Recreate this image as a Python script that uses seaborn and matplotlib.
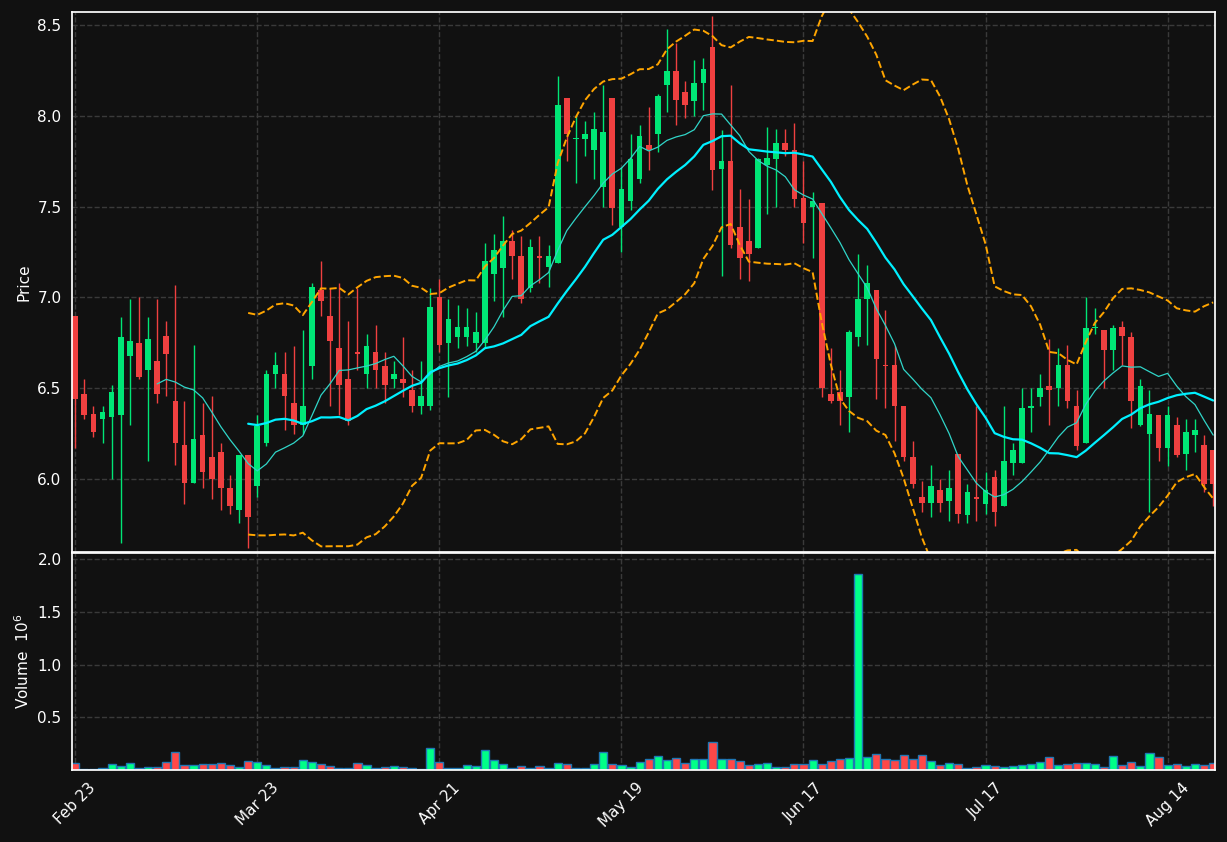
import numpy as np
import pandas as pd
import matplotlib
matplotlib.use("Agg")
import matplotlib.pyplot as plt
import seaborn as sns

# OHLC, one entry per trading day
opens = [6.90, 6.47, 6.36, 6.33, 6.34, 6.35, 6.68, 6.75, 6.60, 6.65,
         6.79, 6.43, 6.19, 5.98, 6.24, 6.12, 6.15, 5.95, 5.83, 6.13,
         5.96, 6.20, 6.58, 6.58, 6.42, 6.30, 6.62, 7.04, 6.90, 6.72,
         6.55, 6.70, 6.58, 6.70, 6.62, 6.55, 6.55, 6.49, 6.40, 6.40,
         7.00, 6.75, 6.78, 6.78, 6.75, 6.75, 7.13, 7.16, 7.31, 7.23,
         7.05, 7.23, 7.17, 7.19, 8.10, 7.87, 7.87, 7.81, 7.61, 8.10,
         7.39, 7.53, 7.65, 7.84, 7.90, 8.17, 8.25, 8.13, 8.08, 8.18,
         8.38, 7.71, 7.75, 7.39, 7.31, 7.27, 7.73, 7.76, 7.85, 7.81,
         7.55, 7.50, 7.52, 6.47, 6.48, 6.45, 6.78, 6.99, 7.04, 6.63,
         6.63, 6.40, 6.12, 5.90, 5.87, 5.94, 5.88, 6.14, 5.80, 5.90,
         5.86, 6.01, 5.85, 6.09, 6.09, 6.39, 6.45, 6.51, 6.50, 6.63,
         6.40, 6.20, 6.83, 6.82, 6.71, 6.84, 6.78, 6.30, 6.25, 6.35,
         6.17, 6.30, 6.14, 6.24, 6.19, 6.16]
highs = [6.90, 6.55, 6.40, 6.40, 6.52, 6.89, 6.99, 7.00, 6.89, 6.99,
         6.87, 7.07, 6.43, 6.74, 6.42, 6.46, 6.20, 6.02, 6.13, 6.13,
         6.35, 6.60, 6.70, 6.70, 6.73, 6.82, 7.08, 7.20, 7.05, 7.08,
         6.87, 7.05, 6.80, 6.85, 6.70, 6.65, 6.78, 6.60, 6.65, 7.05,
         7.10, 6.99, 6.96, 6.94, 6.92, 7.30, 7.35, 7.45, 7.37, 7.34,
         7.32, 7.34, 7.29, 8.22, 8.10, 8.00, 7.97, 8.02, 8.17, 8.10,
         7.72, 7.90, 7.95, 8.05, 8.12, 8.48, 8.40, 8.19, 8.31, 8.32,
         8.55, 7.92, 8.17, 7.60, 7.54, 7.77, 7.94, 7.93, 7.93, 7.96,
         7.75, 7.58, 7.52, 6.72, 6.60, 6.82, 7.24, 7.18, 7.04, 6.93,
         6.73, 6.40, 6.21, 5.99, 6.08, 6.00, 6.05, 6.14, 5.97, 6.40,
         6.04, 6.05, 6.40, 6.20, 6.50, 6.50, 6.58, 6.77, 6.72, 6.74,
         6.49, 7.00, 6.94, 6.82, 6.85, 6.87, 6.81, 6.55, 6.49, 6.35,
         6.40, 6.34, 6.33, 6.33, 6.24, 6.16]
lows = [6.17, 6.33, 6.23, 6.20, 6.00, 5.65, 6.30, 6.55, 6.10, 6.42,
        6.46, 6.08, 5.86, 5.98, 5.95, 5.89, 5.83, 5.81, 5.76, 5.62,
        5.90, 6.18, 6.50, 6.27, 6.25, 6.25, 6.55, 6.90, 6.40, 6.35,
        6.30, 6.60, 6.50, 6.50, 6.42, 6.50, 6.45, 6.37, 6.36, 6.38,
        6.70, 6.45, 6.72, 6.73, 6.70, 6.72, 6.98, 6.89, 7.10, 6.97,
        7.03, 7.08, 7.06, 7.19, 7.75, 7.63, 7.78, 7.65, 7.50, 7.40,
        7.25, 7.48, 7.63, 7.70, 7.80, 8.02, 7.95, 7.99, 8.00, 8.03,
        7.59, 7.12, 7.27, 7.10, 7.09, 7.27, 7.46, 7.50, 7.78, 7.50,
        7.30, 7.22, 6.45, 6.42, 6.30, 6.26, 6.73, 6.74, 6.44, 6.39,
        6.21, 6.10, 5.95, 5.82, 5.79, 5.82, 5.77, 5.76, 5.76, 5.77,
        5.81, 5.74, 5.85, 6.02, 6.09, 6.26, 6.40, 6.30, 6.40, 6.39,
        6.16, 6.20, 6.80, 6.50, 6.60, 6.63, 6.28, 6.29, 5.82, 6.10,
        6.07, 6.12, 6.05, 6.15, 5.93, 5.85]
closes = [6.44, 6.35, 6.26, 6.37, 6.48, 6.78, 6.76, 6.56, 6.77, 6.47,
          6.69, 6.20, 5.98, 6.22, 6.04, 6.00, 5.95, 5.85, 6.13, 5.79,
          6.29, 6.58, 6.63, 6.46, 6.30, 6.40, 7.06, 6.98, 6.76, 6.52,
          6.32, 6.69, 6.73, 6.60, 6.52, 6.58, 6.53, 6.40, 6.46, 6.95,
          6.74, 6.88, 6.84, 6.84, 6.81, 7.20, 7.26, 7.31, 7.23, 6.99,
          7.28, 7.22, 7.23, 8.06, 7.90, 7.88, 7.90, 7.93, 7.91, 7.49,
          7.60, 7.76, 7.89, 7.81, 8.11, 8.25, 8.09, 8.06, 8.18, 8.26,
          7.70, 7.75, 7.29, 7.22, 7.24, 7.76, 7.77, 7.85, 7.81, 7.54,
          7.41, 7.53, 6.50, 6.43, 6.43, 6.81, 6.99, 7.08, 6.66, 6.62,
          6.40, 6.12, 5.97, 5.87, 5.96, 5.87, 5.95, 5.81, 5.93, 5.89,
          5.94, 5.82, 6.10, 6.16, 6.39, 6.40, 6.50, 6.49, 6.63, 6.43,
          6.18, 6.83, 6.84, 6.71, 6.83, 6.79, 6.43, 6.51, 6.36, 6.17,
          6.35, 6.13, 6.26, 6.27, 5.97, 5.97]
volume = [0.063, 0.010, 0.005, 0.016, 0.054, 0.041, 0.063, 0.016, 0.032, 0.032,
          0.073, 0.168, 0.044, 0.044, 0.054, 0.054, 0.063, 0.044, 0.032, 0.082,
          0.073, 0.044, 0.016, 0.032, 0.032, 0.092, 0.073, 0.054, 0.035, 0.016,
          0.016, 0.063, 0.044, 0.016, 0.025, 0.035, 0.025, 0.016, 0.010, 0.206,
          0.073, 0.022, 0.022, 0.044, 0.035, 0.187, 0.092, 0.054, 0.016, 0.035,
          0.022, 0.035, 0.016, 0.063, 0.054, 0.016, 0.016, 0.054, 0.168, 0.054,
          0.044, 0.025, 0.073, 0.100, 0.130, 0.092, 0.111, 0.063, 0.100, 0.100,
          0.263, 0.100, 0.100, 0.082, 0.044, 0.054, 0.063, 0.025, 0.025, 0.054,
          0.054, 0.092, 0.054, 0.082, 0.100, 0.111, 1.860, 0.120, 0.149, 0.100,
          0.092, 0.139, 0.100, 0.139, 0.082, 0.044, 0.063, 0.054, 0.016, 0.025,
          0.044, 0.035, 0.025, 0.035, 0.044, 0.054, 0.073, 0.120, 0.044, 0.054,
          0.063, 0.063, 0.054, 0.025, 0.130, 0.044, 0.073, 0.035, 0.158, 0.120,
          0.044, 0.054, 0.035, 0.054, 0.044, 0.063]
tick_labels = ["Feb 23", "Mar 23", "Apr 21", "May 19", "Jun 17", "Jul 17", "Aug 14"]

df = pd.DataFrame({"open": opens, "high": highs, "low": lows,
                   "close": closes, "volume": volume})
df["i"] = np.arange(len(df))
df["sma10"] = df["close"].rolling(10).mean()
df["sma20"] = df["close"].rolling(20).mean()
std20 = df["close"].rolling(20).std(ddof=0)
df["upper"] = df["sma20"] + 2 * std20
df["lower"] = df["sma20"] - 2 * std20

up_col = "#00e676"
down_col = "#f04040"
bg = "#111111"

sns.set_theme(style="dark", rc={
    "axes.facecolor": bg, "figure.facecolor": bg, "axes.edgecolor": "white",
    "axes.labelcolor": "white", "xtick.color": "white", "ytick.color": "white",
    "text.color": "white", "grid.color": "#3a3a3a", "grid.linestyle": "--",
})
plt.rcParams["font.family"] = ["DejaVu Sans"]

fig = plt.figure(figsize=(12.27, 8.42), dpi=100)
ax = fig.add_axes([0.0587, 0.3444, 0.9315, 0.6413])
axv = fig.add_axes([0.0587, 0.0855, 0.9315, 0.2577], sharex=ax)

is_up = df["close"] >= df["open"]
colors = np.where(is_up, up_col, down_col)

# candles: wicks + bodies
ax.vlines(df["i"], df["low"], df["high"], colors=colors, linewidth=1)
body_h = (df["close"] - df["open"]).abs().clip(lower=0.006)
ax.bar(df["i"], body_h, bottom=np.minimum(df["open"], df["close"]),
       width=0.62, color=colors, linewidth=0)

sns.lineplot(data=df, x="i", y="sma10", ax=ax, color="#30d5c8", linewidth=0.9)
sns.lineplot(data=df, x="i", y="sma20", ax=ax, color="#00f0ff", linewidth=1.6)
sns.lineplot(data=df, x="i", y="upper", ax=ax, color="orange", linewidth=1.4, linestyle="--")
sns.lineplot(data=df, x="i", y="lower", ax=ax, color="orange", linewidth=1.4, linestyle="--")

ax.set_ylim(5.598, 8.572)
ax.set_yticks([6.0, 6.5, 7.0, 7.5, 8.0, 8.5])
ax.set_ylabel("Price", fontsize=11)
ax.set_xlabel("")
ax.grid(True, axis="both", linestyle="--", color="#3a3a3a")
ax.tick_params(axis="x", labelbottom=False, length=0)
ax.tick_params(axis="y", length=4, labelsize=11)

vol_colors = np.where(is_up, "#00ff88", "#ff4848")
axv.bar(df["i"], df["volume"], width=0.9, color=vol_colors,
        edgecolor="#1f77b4", linewidth=1)
axv.set_ylim(0, 2.06)
axv.set_yticks([0.5, 1.0, 1.5, 2.0])
axv.set_ylabel("Volume  $10^6$", fontsize=11)
axv.grid(True, axis="both", linestyle="--", color="#3a3a3a")
axv.set_xticks([0, 20, 40, 60, 80, 100, 120])
axv.set_xticklabels(tick_labels, rotation=45, ha="center", fontsize=11)
axv.tick_params(axis="both", length=4, labelsize=11)
axv.set_xlim(-0.35, 125.2)

for a in (ax, axv):
    for s in a.spines.values():
        s.set_color("white")

fig.savefig("out.png", dpi=100, facecolor=bg)
